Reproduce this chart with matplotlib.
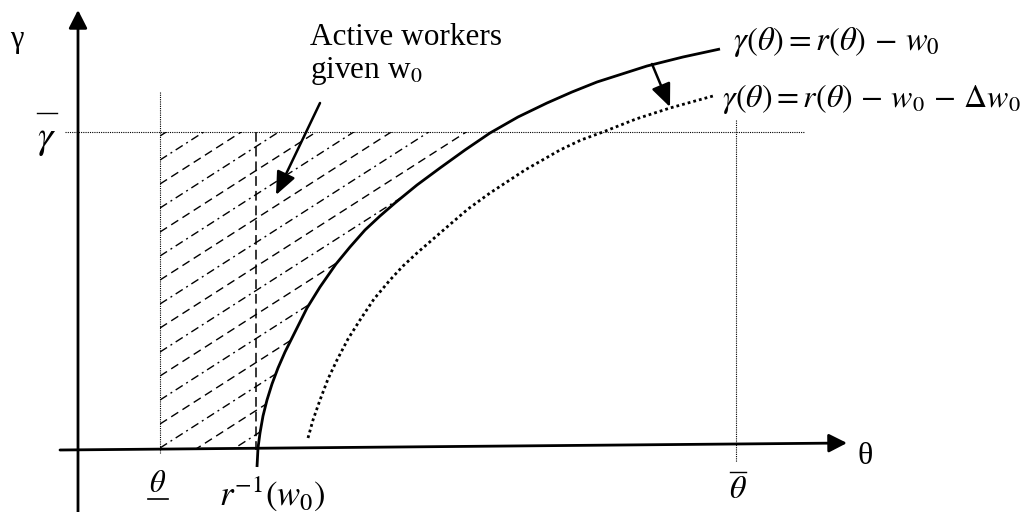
import numpy as np
import matplotlib
matplotlib.use("Agg")
import matplotlib.pyplot as plt
from matplotlib.patches import Polygon

plt.rcParams['font.family'] = ['Liberation Serif', 'DejaVu Serif']
plt.rcParams['mathtext.fontset'] = 'stix'
plt.rcParams['lines.scale_dashes'] = False

# diagram coordinates (image space, y grows downwards)
# r(theta) - w0 curve
theta_r = [257, 258, 260, 263, 267, 272, 278, 285, 294, 307, 320, 336, 350, 365,
           380, 395, 417, 440, 465, 490, 518, 547, 572, 597, 622, 647, 683, 720]
gamma_r = [467, 448, 433, 416, 400, 384, 368, 352, 334, 308, 287, 264, 247, 230,
           216, 203, 185, 168, 150, 133, 117, 103, 92, 82, 74, 66, 57, 49]

# r(theta) - w0 - dw0 curve (dotted)
theta_d = [308, 313, 320, 328, 337, 348, 360, 374, 390, 403, 417, 432, 447, 468,
           490, 525, 560, 581, 603, 636, 670, 713]
gamma_d = [438, 420, 400, 379, 360, 339, 320, 299, 280, 266, 253, 240, 227, 209,
           193, 170, 150, 140, 132, 119, 108, 96]

# axes
x_axis_start = (60, 450)
x_axis_tip = (847, 443)
y_axis_start = (78, 512)
y_axis_tip = (78, 10)

gamma_bar = 132
gamma_line_x = [65, 805]
theta_low = 160
theta_low_y = [92, 453]
theta_high = 736
theta_high_y = [120, 462]
r_inv = 256
r_inv_y = [132, 450]
floor_y = 449

# hatching of the active-worker area
hatch_slope = -0.64
hatch_step = 24
hatch_first = 136
hatch_last = 520

fig = plt.figure(figsize=(10.24, 5.12), dpi=100)
ax = fig.add_axes([0, 0, 1, 1])
ax.set_xlim(0, 1024)
ax.set_ylim(512, 0)
ax.axis('off')

dot_style = dict(color='k', lw=0.8, dashes=(0.8, 0.8))
ax.plot(gamma_line_x, [gamma_bar, gamma_bar], **dot_style)
ax.plot([theta_low, theta_low], theta_low_y, **dot_style)
ax.plot([theta_high, theta_high], theta_high_y, **dot_style)
ax.plot([r_inv, r_inv], r_inv_y, color='k', lw=1.1, dashes=(7, 3.6))

# hatched region, clipped by the curve
inside = [(t, g) for t, g in zip(theta_r, gamma_r) if gamma_bar <= g <= floor_y]
poly = [(theta_low, gamma_bar), (inside[-1][0], gamma_bar)] + inside[::-1] + \
       [(inside[0][0], floor_y), (theta_low, floor_y)]
clip = Polygon(poly, closed=True, fc='none', ec='none')
ax.add_patch(clip)
hx = np.array([theta_low, 520])
for k, c in enumerate(np.arange(hatch_first, hatch_last, hatch_step)):
    dash = (6.0, 3.6) if k % 2 == 0 else (6.0, 3.0, 1.4, 3.0)
    ln, = ax.plot(hx, c + hatch_slope * (hx - theta_low), color='k', lw=1.0, dashes=dash)
    ln.set_clip_path(clip)

ax.plot(theta_r, gamma_r, color='k', lw=2.0, solid_capstyle='butt', solid_joinstyle='round')
ax.plot(theta_d, gamma_d, color='k', lw=2.0, dashes=(2.0, 2.2), dash_capstyle='butt')

axis_arrow = dict(arrowstyle='-|>,head_length=0.55,head_width=0.28', color='k',
                  lw=2.0, mutation_scale=20, shrinkA=0, shrinkB=0)
ax.annotate('', xy=x_axis_tip, xytext=x_axis_start, arrowprops=axis_arrow)
ax.annotate('', xy=y_axis_tip, xytext=y_axis_start, arrowprops=axis_arrow)

note_arrow = dict(arrowstyle='-|>,head_length=0.7,head_width=0.3', color='k',
                  lw=1.8, mutation_scale=20, shrinkA=0, shrinkB=0)
ax.annotate('', xy=(276, 195), xytext=(320, 103), arrowprops=note_arrow)
ax.annotate('', xy=(670, 107), xytext=(652, 64), arrowprops=note_arrow)

# labels
ax.text(310, 45, 'Active workers', fontsize=22.5, va='baseline', ha='left')
ax.text(310, 78, 'given w$_{0}$', fontsize=22.5, va='baseline', ha='left')

ax.text(733, 50, r'$\gamma\left(\theta\right) = r(\theta)\, -\, w_{0}$', fontsize=23.5,
        va='baseline', ha='left')
ax.text(722, 107, r'$\gamma\left(\theta\right) = r(\theta)\, -\, w_{0}\, -\, \Delta w_{0}$',
        fontsize=23, va='baseline', ha='left')

ax.text(17, 40, 'γ', fontsize=22, ha='center', va='center')
ax.text(47, 140, r'$\gamma$', fontsize=28, ha='center', va='center')
ax.plot([37, 57], [113, 113], color='k', lw=1.0)

ax.text(865, 456, 'θ', fontsize=23, ha='center', va='center')

ax.text(158, 485, r'$\theta$', fontsize=22, ha='center', va='center')
ax.plot([148, 168], [499, 499], color='k', lw=1.2)

ax.text(738, 491, r'$\theta$', fontsize=23, ha='center', va='center')
ax.plot([730, 746], [472, 472], color='k', lw=1.0)

ax.text(272, 494, r'$r^{-1}(w_{0})$', fontsize=25, ha='center', va='center')

fig.savefig('out.png', dpi=100)
